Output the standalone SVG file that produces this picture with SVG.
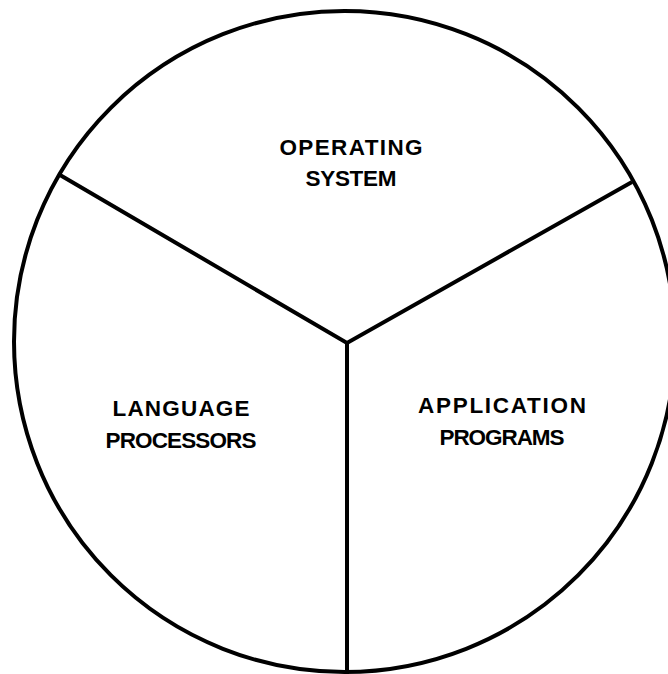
<svg xmlns="http://www.w3.org/2000/svg" width="668" height="674" viewBox="0 0 668 674">
<style>
.outline{fill:none;stroke:#000;stroke-width:4}
.div{fill:none;stroke:#000;stroke-width:4;stroke-linejoin:miter}
.lbl{font-family:"Liberation Sans",Arial,sans-serif;font-weight:bold;font-size:22.5px;fill:#000;text-anchor:middle}
</style>
<rect width="668" height="674" fill="#fff"/>
<g id="pie">
<circle class="outline" cx="344.5" cy="341.5" r="330.5"/>
</g>
<g id="connectors">
<polyline class="div" points="60,175 347,343 632,182"/>
<line class="div" x1="347" y1="343" x2="347" y2="674"/>
</g>
<g id="operating-system">
<text class="lbl" x="351" y="155" textLength="143" lengthAdjust="spacing">OPERATING</text>
<text class="lbl" x="351" y="186" textLength="91" lengthAdjust="spacing">SYSTEM</text>
</g>
<g id="language-processors">
<text class="lbl" x="181" y="416" textLength="137" lengthAdjust="spacing">LANGUAGE</text>
<text class="lbl" x="181" y="448" textLength="151" lengthAdjust="spacing">PROCESSORS</text>
</g>
<g id="application-programs">
<text class="lbl" x="502" y="413" textLength="168" lengthAdjust="spacing">APPLICATION</text>
<text class="lbl" x="502" y="445" textLength="125" lengthAdjust="spacing">PROGRAMS</text>
</g>
</svg>
